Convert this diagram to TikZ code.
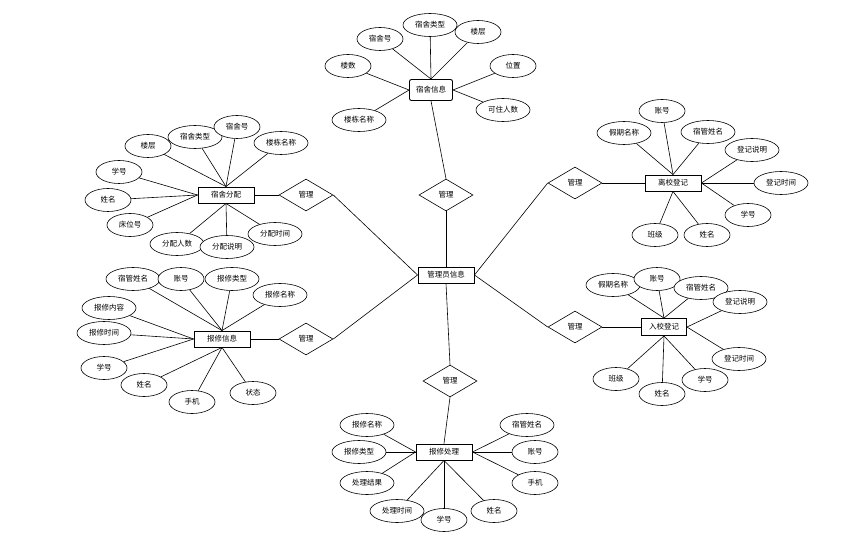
\documentclass[tikz,border=0pt]{standalone}
\usepackage{fontspec}
\newfontfamily\cjk{Noto Sans CJK SC}
\usetikzlibrary{shapes.geometric}

\begin{document}
\begin{tikzpicture}[x=1pt, y=-1pt,
		every node/.style={font=\cjk\fontsize{7.5}{8}\selectfont, inner sep=1pt},
		entity/.style={draw, fill=white, line width=0.9pt, minimum width=56pt, minimum height=16pt},
		attr/.style={draw, fill=white, ellipse, line width=0.6pt, minimum width=46pt, minimum height=23pt},
		wattr/.style={attr, minimum width=54pt},
		rel/.style={draw, fill=white, diamond, line width=0.6pt, minimum width=54pt, minimum height=32pt},
		link/.style={line width=0.6pt}
	]
		\useasboundingbox (0,0) rectangle (843,540);

		% centre
		\node[entity] (gly) at (446,275) {管理员信息};
		\node[rel] (rtop) at (446,195) {管理};
		\node[rel] (rul) at (306,195) {管理};
		\node[rel] (rll) at (306,339) {管理};
		\node[rel] (rur) at (575,183) {管理};
		\node[rel] (rlr) at (575,327) {管理};
		\node[rel] (rbot) at (450,381) {管理};

		% entities
		\node[entity, rounded corners=2pt, minimum width=43pt, minimum height=21pt] (ssxx) at (431,90) {宿舍信息};
		\node[entity] (ssfp) at (226,195) {宿舍分配};
		\node[entity] (lxdj) at (673,183) {离校登记};
		\node[entity, minimum width=45pt, minimum height=17pt] (rxdj) at (664,327) {入校登记};
		\node[entity] (bxxx) at (222,339) {报修信息};
		\node[entity] (bxcl) at (444,452) {报修处理};

		% 宿舍信息 attributes
		\node[attr] (ss1) at (380,39) {宿舍号};
		\node[wattr] (ss2) at (430,25) {宿舍类型};
		\node[attr] (ss3) at (478,32) {楼层};
		\node[attr] (ss4) at (348,66) {楼数};
		\node[attr] (ss5) at (513,66) {位置};
		\node[wattr] (ss6) at (503,110) {可住人数};
		\node[wattr] (ss7) at (359,120) {楼栋名称};

		% 宿舍分配 attributes
		\node[attr] (fp1) at (148,146) {楼层};
		\node[wattr] (fp2) at (195,137) {宿舍类型};
		\node[attr] (fp3) at (237,127) {宿舍号};
		\node[wattr] (fp4) at (281,143) {楼栋名称};
		\node[attr] (fp5) at (119,172) {学号};
		\node[attr] (fp6) at (108,200) {姓名};
		\node[attr] (fp7) at (130,225) {床位号};
		\node[wattr] (fp8) at (177,244) {分配人数};
		\node[wattr] (fp9) at (227,247) {分配说明};
		\node[wattr] (fp10) at (275,234) {分配时间};

		% 离校登记 attributes
		\node[attr] (lx1) at (662,111) {账号};
		\node[wattr] (lx2) at (624,133) {假期名称};
		\node[wattr] (lx3) at (708,132) {宿管姓名};
		\node[wattr] (lx4) at (752,150) {登记说明};
		\node[wattr] (lx5) at (781,183) {登记时间};
		\node[attr] (lx6) at (748,215) {学号};
		\node[attr] (lx7) at (707,235) {姓名};
		\node[attr] (lx8) at (655,235) {班级};

		% 入校登记 attributes
		\node[wattr] (rx1) at (613,285) {假期名称};
		\node[attr] (rx2) at (657,279) {账号};
		\node[wattr] (rx3) at (701,288) {宿管姓名};
		\node[wattr] (rx4) at (740,302) {登记说明};
		\node[wattr] (rx5) at (739,359) {登记时间};
		\node[attr] (rx6) at (705,380) {学号};
		\node[attr] (rx7) at (662,394) {姓名};
		\node[attr] (rx8) at (616,379) {班级};

		% 报修信息 attributes
		\node[wattr] (bx1) at (133,279) {宿管姓名};
		\node[attr] (bx2) at (181,279) {账号};
		\node[wattr] (bx3) at (232,279) {报修类型};
		\node[wattr] (bx4) at (280,295) {报修名称};
		\node[wattr] (bx5) at (109,308) {报修内容};
		\node[wattr] (bx6) at (104,333) {报修时间};
		\node[attr] (bx7) at (104,368) {学号};
		\node[attr] (bx8) at (144,385) {姓名};
		\node[attr] (bx9) at (192,402) {手机};
		\node[attr] (bx10) at (253,393) {状态};

		% 报修处理 attributes
		\node[wattr] (cl1) at (367,425) {报修名称};
		\node[wattr] (cl2) at (359,452) {报修类型};
		\node[wattr] (cl3) at (367,483) {处理结果};
		\node[wattr] (cl4) at (397,511) {处理时间};
		\node[attr] (cl5) at (444,520) {学号};
		\node[attr] (cl6) at (494,511) {姓名};
		\node[attr] (cl7) at (535,483) {手机};
		\node[attr] (cl8) at (535,452) {账号};
		\node[wattr] (cl9) at (527,425) {宿管姓名};

		% relationships
		\draw[link] (rtop) -- (gly.north);
		\draw[link] (rul.east) -- (gly.west);
		\draw[link] (rll.east) -- (gly.west);
		\draw[link] (rur.west) -- (gly.east);
		\draw[link] (rlr.west) -- (gly.east);
		\draw[link] (rbot.north) -- (gly.south);
		\draw[link] (ssxx.south) -- (rtop.north);
		\draw[link] (rul.west) -- (ssfp.east);
		\draw[link] (rll.west) -- (bxxx.east);
		\draw[link] (rur.east) -- (lxdj.west);
		\draw[link] (rlr.east) -- (rxdj.west);
		\draw[link] (rbot.south) -- (bxcl.north);

		% attribute links
		\foreach \a in {ss1,ss2,ss3} \draw[link] (\a) -- (ssxx.north);
		\foreach \a in {ss4,ss7} \draw[link] (\a) -- (ssxx.west);
		\foreach \a in {ss5,ss6} \draw[link] (\a) -- (ssxx.east);

		\foreach \a in {fp1,fp2,fp3,fp4} \draw[link] (\a) -- (ssfp.north);
		\foreach \a in {fp5,fp6,fp7} \draw[link] (\a) -- (ssfp.west);
		\foreach \a in {fp8,fp9,fp10} \draw[link] (\a) -- (ssfp.south);

		\foreach \a in {lx1,lx2,lx3} \draw[link] (\a) -- (lxdj.north);
		\foreach \a in {lx4,lx5,lx6} \draw[link] (\a) -- (lxdj.east);
		\foreach \a in {lx7,lx8} \draw[link] (\a) -- (lxdj.south);

		\foreach \a in {rx1,rx2,rx3} \draw[link] (\a) -- (rxdj.north);
		\foreach \a in {rx4,rx5} \draw[link] (\a) -- (rxdj.east);
		\foreach \a in {rx6,rx7,rx8} \draw[link] (\a) -- (rxdj.south);

		\foreach \a in {bx1,bx2,bx3,bx4} \draw[link] (\a) -- (bxxx.north);
		\foreach \a in {bx5,bx6,bx7} \draw[link] (\a) -- (bxxx.west);
		\foreach \a in {bx8,bx9,bx10} \draw[link] (\a) -- (bxxx.south);

		\foreach \a in {cl1,cl2,cl3} \draw[link] (\a) -- (bxcl.west);
		\foreach \a in {cl4,cl5,cl6} \draw[link] (\a) -- (bxcl.south);
		\foreach \a in {cl7,cl8,cl9} \draw[link] (\a) -- (bxcl.east);
	\end{tikzpicture}
\end{document}
